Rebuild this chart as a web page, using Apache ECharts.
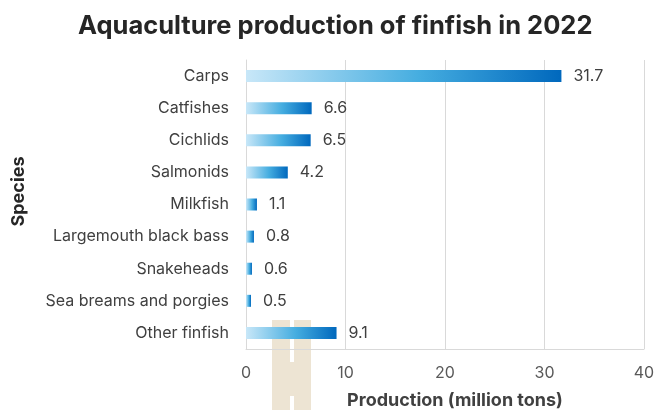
<!DOCTYPE html>
<html>
<head>
<meta charset="utf-8">
<script src="https://cdn.jsdelivr.net/npm/echarts@6/dist/echarts.min.js"></script>
<style>
  html, body { margin: 0; padding: 0; background: #ffffff; }
  #chart { width: 654px; height: 410px; }
</style>
</head>
<body>
<div id="chart"></div>
<script>
// Finfish aquaculture output by species group, million tons (2022)
const species = [
  'Carps', 'Catfishes', 'Cichlids', 'Salmonids', 'Milkfish',
  'Largemouth black bass', 'Snakeheads', 'Sea breams and porgies', 'Other finfish'
];
const production = [31.7, 6.6, 6.5, 4.2, 1.1, 0.8, 0.6, 0.5, 9.1];
const xTicks = [0, 10, 20, 30, 40];

const FONT = 'Inter, Roboto, "Liberation Sans", sans-serif';

const chart = echarts.init(document.getElementById('chart'), null, { renderer: 'canvas' });

const barGradient = new echarts.graphic.LinearGradient(0, 0, 1, 0, [
  { offset: 0, color: '#c8e7f8' },
  { offset: 0.55, color: '#45ade0' },
  { offset: 1, color: '#0068bd' }
]);

chart.setOption({
  backgroundColor: '#ffffff',
  animation: false,
  title: {
    text: 'Aquaculture production of finfish in 2022',
    left: 73,
    top: 8,
    textStyle: { fontFamily: FONT, fontSize: 25.5, fontWeight: 'bold', color: '#262626' }
  },
  grid: { left: 246, right: 10, top: 60, bottom: 61, containLabel: false, outerBoundsMode: 'none' },
  xAxis: {
    type: 'value',
    min: xTicks[0],
    max: xTicks[xTicks.length - 1],
    interval: 10,
    name: 'Production (million tons)',
    nameLocation: 'middle',
    nameGap: 43,
    nameTextStyle: { fontFamily: FONT, fontSize: 18, fontWeight: 'bold', color: '#404040', padding: [0, 0, 0, 20] },
    axisLine: { show: true, lineStyle: { color: '#d9d9d9', width: 1 } },
    axisTick: { show: false },
    axisLabel: { fontFamily: FONT, fontSize: 16, color: '#595959', margin: 16 },
    splitLine: { show: true, lineStyle: { color: '#d9d9d9', width: 1 } }
  },
  yAxis: {
    type: 'category',
    data: species,
    inverse: true,
    name: 'Species',
    nameLocation: 'middle',
    nameGap: 218,
    nameRotate: 90,
    nameTextStyle: { fontFamily: FONT, fontSize: 18, fontWeight: 'bold', color: '#262626', padding: [0, 0, 0, 26] },
    axisLine: { show: true, lineStyle: { color: '#d9d9d9', width: 1 } },
    axisTick: { show: false },
    axisLabel: { fontFamily: FONT, fontSize: 16, color: '#404040', margin: 17 }
  },
  series: [{
    type: 'bar',
    data: production,
    barWidth: 12,
    itemStyle: { color: barGradient },
    label: {
      show: true,
      position: 'right',
      distance: 12,
      fontFamily: FONT,
      fontSize: 16,
      color: '#404040'
    }
  }],
  graphic: [{
    type: 'group',
    left: 272,
    top: 320,
    z: 100,
    children: [
      { type: 'rect', shape: { x: 0, y: 0, width: 18, height: 90 }, style: { fill: '#dbc9a7', opacity: 0.5 } },
      { type: 'rect', shape: { x: 22, y: 0, width: 17, height: 90 }, style: { fill: '#dbc9a7', opacity: 0.5 } },
      { type: 'rect', shape: { x: 18, y: 42, width: 4, height: 34 }, style: { fill: '#dbc9a7', opacity: 0.5 } }
    ]
  }]
});
</script>
</body>
</html>
